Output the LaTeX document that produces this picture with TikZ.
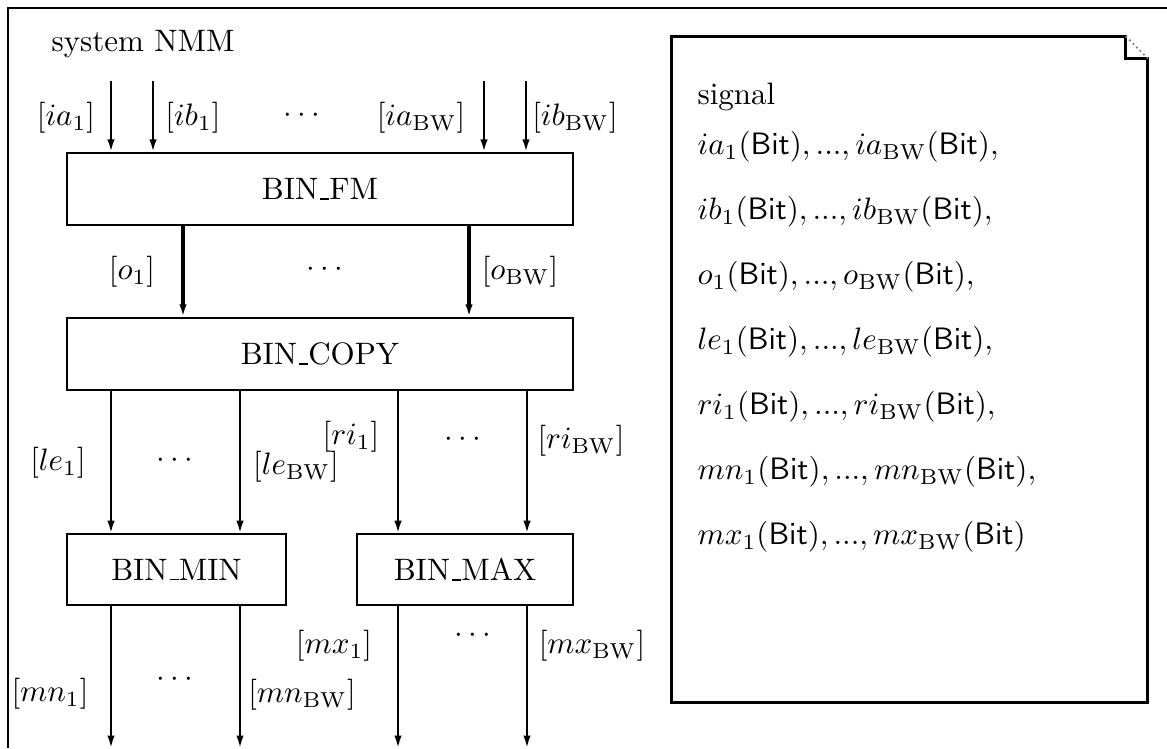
\documentclass[tikz,border=0pt]{standalone}
\usetikzlibrary{arrows.meta,positioning}
\newcommand{\usc}{\leavevmode\kern.06em\vbox{\hrule height.5pt width.3em}}

\begin{document}
\begin{tikzpicture}[x=0.01134cm,y=-0.01134cm,
		block/.style={draw, line width=0.7pt, inner sep=0pt, minimum height=0.82cm},
		wire/.style={->, line width=0.7pt, >={Latex[length=4pt,width=2.4pt]}},
		bus/.style={wire, line width=1.1pt},
		sigline/.style={anchor=west, inner sep=0pt}
	]
	\useasboundingbox (0,0) rectangle (1167,748);
	\draw[line width=0.7pt] (1167,8) -- (8,8) -- (8,748);
	
	\node (title) at (143,44) {system NMM};
	
	\node[block, minimum width=5.74cm] (fm) at (320,189) {BIN\usc FM};
	\node[block, minimum width=5.74cm] (copy) at (320,354) {BIN\usc COPY};
	\node[block, minimum width=2.48cm, minimum height=0.8cm] (bmin) at (176.5,569.5) {BIN\usc MIN};
	\node[block, minimum width=2.45cm, minimum height=0.8cm] (bmax) at (465,569.5) {BIN\usc MAX};
	
	% inputs
	\coordinate (in_a1) at (111,81);
	\coordinate (in_b1) at (153,81);
	\coordinate (in_an) at (484,81);
	\coordinate (in_bn) at (526,81);
	\draw[wire] (in_a1) -- (in_a1 |- fm.north);
	\draw[wire] (in_b1) -- (in_b1 |- fm.north);
	\draw[wire] (in_an) -- (in_an |- fm.north);
	\draw[wire] (in_bn) -- (in_bn |- fm.north);
	\node (l_ia1) at (66,118) {$[ia_1]$};
	\node (l_ib1) at (193,118) {$[ib_1]$};
	\node (d_in) at (302,116) {$\cdots$};
	\node (l_ian) at (421,118) {$[ia_{\mathrm{BW}}]$};
	\node (l_ibn) at (575,118) {$[ib_{\mathrm{BW}}]$};
	
	% fm -> copy
	\draw[bus] (fm.south -| 183,0) -- (copy.north -| 183,0);
	\draw[bus] (fm.south -| 469,0) -- (copy.north -| 469,0);
	\node (l_o1) at (132,272) {$[o_1]$};
	\node (d_o) at (325,270) {$\cdots$};
	\node (l_on) at (520,272) {$[o_{\mathrm{BW}}]$};
	
	% copy -> min, max
	\draw[wire] (copy.south -| 111,0) -- (bmin.north -| 111,0);
	\draw[wire] (copy.south -| 240,0) -- (bmin.north -| 240,0);
	\draw[wire] (copy.south -| 398,0) -- (bmax.north -| 398,0);
	\draw[wire] (copy.south -| 527,0) -- (bmax.north -| 527,0);
	\node (l_le1) at (58,463) {$[le_1]$};
	\node (d_le) at (175,461) {$\cdots$};
	\node[inner sep=0pt] (l_len) at (296,467) {$[le_{\mathrm{BW}}]$};
	\node[inner sep=0pt] (l_ri1) at (351,437) {$[ri_1]$};
	\node (d_ri) at (463,440) {$\cdots$};
	\node (l_rin) at (581,441) {$[ri_{\mathrm{BW}}]$};
	
	% outputs
	\coordinate (out_n1) at (111,748);
	\coordinate (out_nn) at (240,748);
	\coordinate (out_x1) at (398,748);
	\coordinate (out_xn) at (527,748);
	\draw[wire] (bmin.south -| out_n1) -- (out_n1);
	\draw[wire] (bmin.south -| out_nn) -- (out_nn);
	\draw[wire] (bmax.south -| out_x1) -- (out_x1);
	\draw[wire] (bmax.south -| out_xn) -- (out_xn);
	\node (l_mn1) at (50,694) {$[mn_1]$};
	\node (d_mn) at (175,680) {$\cdots$};
	\node (l_mnn) at (302,695) {$[mn_{\mathrm{BW}}]$};
	\node (l_mx1) at (334,646) {$[mx_1]$};
	\node (d_mx) at (473,636) {$\cdots$};
	\node (l_mxn) at (592,646) {$[mx_{\mathrm{BW}}]$};
	
	% signal declarations
	\node[minimum width=5.387cm, minimum height=7.541cm, inner sep=0pt] (signals) at (909.5,369.5) {};
	\draw[line width=1pt] ([yshift=-0.25cm]signals.north east) -- ++(-0.25cm,0)
		-- ([xshift=-0.25cm]signals.north east) -- (signals.north west)
		-- (signals.south west) -- (signals.south east) -- cycle;
	\draw[gray, densely dotted, line width=0.6pt] ([xshift=-0.25cm]signals.north east) -- ([yshift=-0.25cm]signals.north east);
	
	\node[sigline] (s_head) at (697,97) {signal};
	\node[sigline] (s_ia) at (697,147) {$ia_1(\mathsf{Bit}), ..., ia_{\mathrm{BW}}(\mathsf{Bit}),$};
	\node[sigline] (s_ib) at (697,212) {$ib_1(\mathsf{Bit}), ..., ib_{\mathrm{BW}}(\mathsf{Bit}),$};
	\node[sigline] (s_o) at (697,277) {$o_1(\mathsf{Bit}), ..., o_{\mathrm{BW}}(\mathsf{Bit}),$};
	\node[sigline] (s_le) at (697,342) {$le_1(\mathsf{Bit}), ..., le_{\mathrm{BW}}(\mathsf{Bit}),$};
	\node[sigline] (s_ri) at (697,407) {$ri_1(\mathsf{Bit}), ..., ri_{\mathrm{BW}}(\mathsf{Bit}),$};
	\node[sigline] (s_mn) at (697,472) {$mn_1(\mathsf{Bit}), ..., mn_{\mathrm{BW}}(\mathsf{Bit}),$};
	\node[sigline] (s_mx) at (697,537) {$mx_1(\mathsf{Bit}), ..., mx_{\mathrm{BW}}(\mathsf{Bit})$};
\end{tikzpicture}
\end{document}
